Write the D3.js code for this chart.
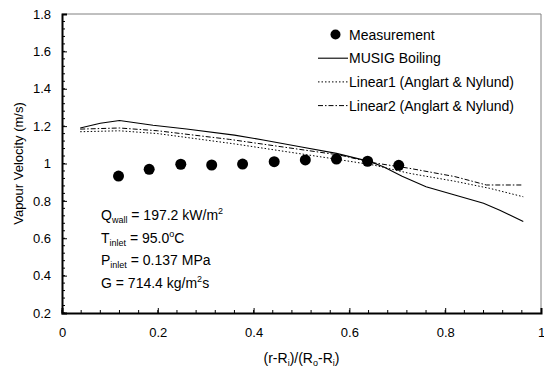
<!DOCTYPE html>
<html>
<head>
<meta charset="utf-8">
<script src="https://cdn.jsdelivr.net/npm/d3@7"></script>
<style>
  body { margin: 0; background: #fff; }
  svg { font-family: "Liberation Sans", Arial, sans-serif; }
</style>
</head>
<body>
<div id="chart"></div>
<script>
// Measured points
const measX = [0.118, 0.182, 0.248, 0.3125, 0.377, 0.443, 0.508, 0.573, 0.638, 0.703];
const measY = [0.933, 0.969, 0.996, 0.992, 0.997, 1.01, 1.019, 1.024, 1.012, 0.99];

// MUSIG Boiling (solid)
const musigX = [0.038, 0.08, 0.12, 0.19, 0.26, 0.36, 0.42, 0.50, 0.573, 0.643, 0.671, 0.71, 0.76, 0.82, 0.88, 0.914, 0.963];
const musigY = [1.19, 1.215, 1.23, 1.205, 1.185, 1.152, 1.126, 1.088, 1.054, 1.01, 0.983, 0.932, 0.876, 0.831, 0.787, 0.75, 0.689];

// Linear1 (dotted)
const lin1X = [0.038, 0.12, 0.2, 0.36, 0.56, 0.65, 0.726, 0.82, 0.893, 0.963];
const lin1Y = [1.17, 1.175, 1.16, 1.105, 1.028, 0.992, 0.947, 0.905, 0.867, 0.822];

// Linear2 (dash-dot)
const lin2X = [0.038, 0.12, 0.2, 0.35, 0.58, 0.65, 0.726, 0.82, 0.886, 0.963];
const lin2Y = [1.184, 1.19, 1.175, 1.129, 1.045, 1.004, 0.974, 0.93, 0.885, 0.885];

const xTicks = [0, 0.2, 0.4, 0.6, 0.8, 1];
const yTicks = [0.2, 0.4, 0.6, 0.8, 1, 1.2, 1.4, 1.6, 1.8];
const legendLabels = ["Measurement", "MUSIG Boiling", "Linear1 (Anglart & Nylund)", "Linear2 (Anglart & Nylund)"];

const width = 544, height = 370;
const margin = { top: 14, right: 3, bottom: 57, left: 62 };

const svg = d3.select("#chart").append("svg")
    .attr("width", width)
    .attr("height", height);

const x = d3.scaleLinear().domain([0, 1]).range([margin.left, width - margin.right]);
const y = d3.scaleLinear().domain([0.2, 1.8]).range([height - margin.bottom, margin.top]);

// top / right frame (thin grey)
svg.append("path")
    .attr("d", `M${x(0)},${y(1.8)}H${x(1)}V${y(0.2)}`)
    .attr("fill", "none")
    .attr("stroke", "#808080")
    .attr("stroke-width", 1);

// minor ticks
const minor = d3.range(0, 41).map(i => i * 0.04);
svg.append("g")
    .selectAll("line")
    .data(minor.map(v => v + 0.2).filter(v => v < 1.8))
    .join("line")
    .attr("x1", x(0)).attr("x2", x(0) + 3)
    .attr("y1", d => y(d)).attr("y2", d => y(d))
    .attr("stroke", "#000");
svg.append("g")
    .selectAll("line")
    .data(minor.filter(v => v < 1))
    .join("line")
    .attr("y1", y(0.2)).attr("y2", y(0.2) - 3)
    .attr("x1", d => x(d)).attr("x2", d => x(d))
    .attr("stroke", "#000");

// axes
const yAxis = svg.append("g")
    .attr("transform", `translate(${x(0)},0)`)
    .call(d3.axisLeft(y).tickValues(yTicks).tickSize(-5).tickPadding(11).tickFormat(d3.format("~g")));
const xAxis = svg.append("g")
    .attr("transform", `translate(0,${y(0.2)})`)
    .call(d3.axisBottom(x).tickValues(xTicks).tickSize(-5).tickPadding(15).tickFormat(d3.format("~g")));
[xAxis, yAxis].forEach(a => {
    a.select(".domain").attr("stroke", "#000").attr("stroke-width", 2);
    a.selectAll("text").attr("font-size", 13).attr("fill", "#000").attr("font-family", "Liberation Sans, Arial, sans-serif");
});

// lines
const line = d3.line().x(d => x(d[0])).y(d => y(d[1]));
const series = [
    { xs: musigX, ys: musigY, dash: null, w: 1.1 },
    { xs: lin1X, ys: lin1Y, dash: "1.5,2", w: 1 },
    { xs: lin2X, ys: lin2Y, dash: "5,2,1.5,2", w: 1 }
];
series.forEach(s => {
    svg.append("path")
        .datum(s.xs.map((v, i) => [v, s.ys[i]]))
        .attr("d", line)
        .attr("fill", "none")
        .attr("stroke", "#000")
        .attr("stroke-width", s.w)
        .attr("stroke-dasharray", s.dash);
});

// measurement points
svg.append("g")
    .selectAll("circle")
    .data(measX.map((v, i) => [v, measY[i]]))
    .join("circle")
    .attr("cx", d => x(d[0]))
    .attr("cy", d => y(d[1]))
    .attr("r", 5.5)
    .attr("fill", "#000");

// legend
const leg = svg.append("g").attr("font-size", 14);
legendLabels.forEach((lab, i) => {
    const ly = 34.5 + i * 23.7;
    if (i === 0) {
        leg.append("circle").attr("cx", 335.5).attr("cy", ly).attr("r", 5).attr("fill", "#000");
    } else {
        const s = series[i - 1];
        leg.append("line")
            .attr("x1", 318).attr("x2", 348)
            .attr("y1", ly).attr("y2", ly)
            .attr("stroke", "#000")
            .attr("stroke-width", s.w)
            .attr("stroke-dasharray", s.dash);
    }
    leg.append("text").attr("x", 349).attr("y", ly + 5).text(lab);
});

// axis titles
svg.append("text")
    .attr("transform", `translate(23,${(y(0.2) + y(1.8)) / 2}) rotate(-90)`)
    .attr("text-anchor", "middle")
    .attr("font-size", 13)
    .text("Vapour Velocity (m/s)");

const xt = svg.append("text")
    .attr("x", (x(0) + x(1)) / 2)
    .attr("y", 363)
    .attr("text-anchor", "middle")
    .attr("font-size", 14);
xt.append("tspan").text("(r-R");
xt.append("tspan").attr("font-size", 9).attr("dy", 3).text("i");
xt.append("tspan").attr("dy", -3).text(")/(R");
xt.append("tspan").attr("font-size", 9).attr("dy", 3).text("o");
xt.append("tspan").attr("dy", -3).text("-R");
xt.append("tspan").attr("font-size", 9).attr("dy", 3).text("i");
xt.append("tspan").attr("dy", -3).text(")");

// annotation block
const notes = [
    [["Q", 0], ["wall", 1], [" = 197.2 kW/m", 0], ["2", -1]],
    [["T", 0], ["inlet", 1], [" = 95.0", 0], ["o", -1], ["C", 0]],
    [["P", 0], ["inlet", 1], [" = 0.137 MPa", 0]],
    [["G = 714.4 kg/m", 0], ["2", -1], ["s", 0]]
];
notes.forEach((parts, i) => {
    const t = svg.append("text")
        .attr("x", 101)
        .attr("y", 220 + i * 22.6)
        .attr("font-size", 14);
    let prev = 0;
    parts.forEach(([str, kind]) => {
        const off = kind === 1 ? 3 : kind === -1 ? -6 : 0;
        t.append("tspan")
            .attr("dy", off - prev)
            .attr("font-size", kind === 0 ? 14 : 9)
            .text(str);
        prev = off;
    });
});
</script>
</body>
</html>
